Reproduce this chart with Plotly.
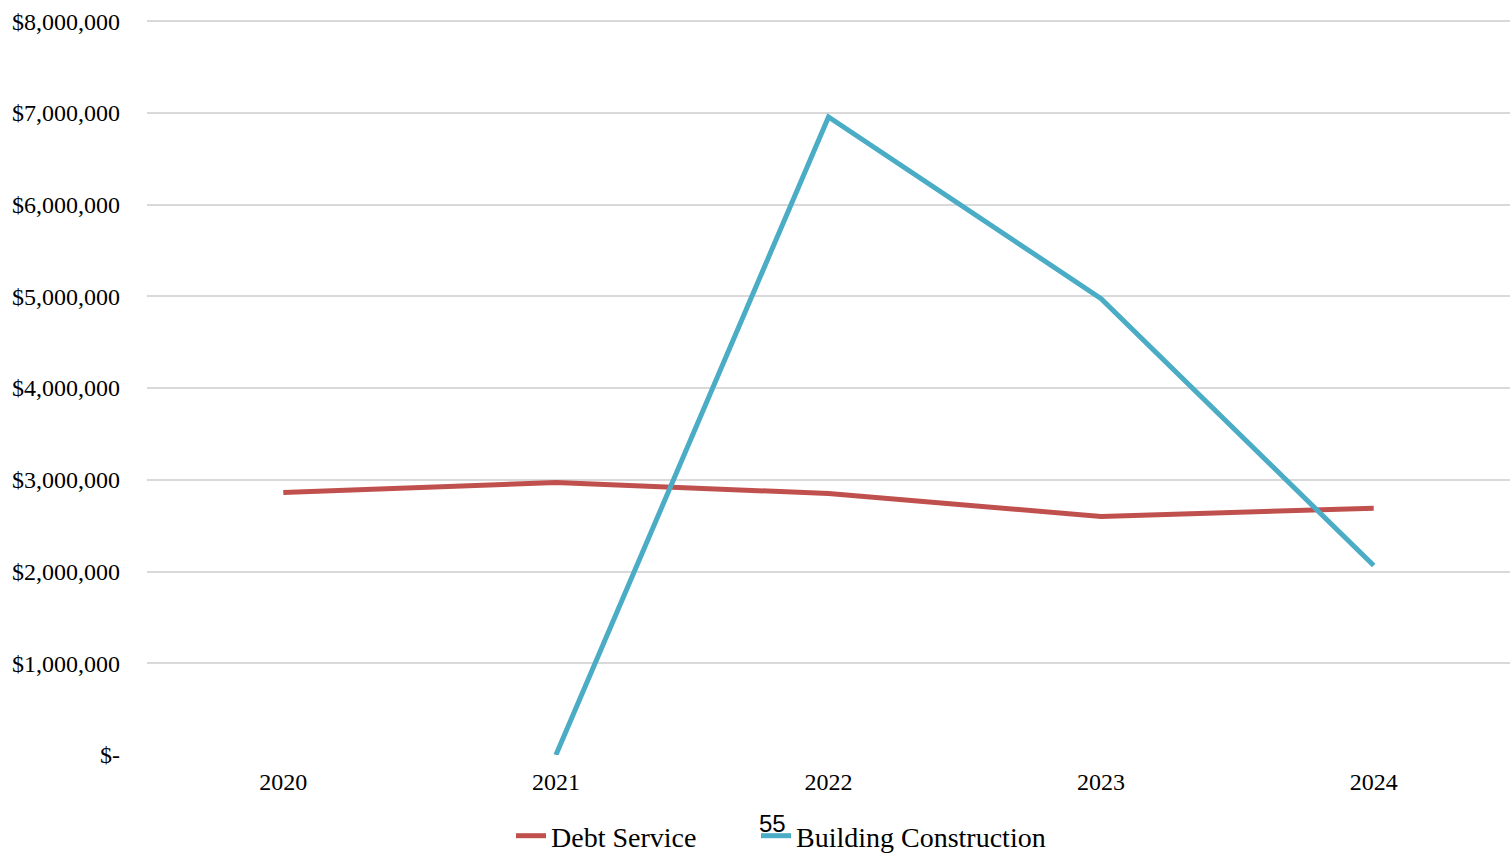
import plotly.graph_objects as go

years = ["2020", "2021", "2022", "2023", "2024"]
debt_service = [2862000, 2970000, 2850000, 2600000, 2690000]
building_construction = [None, 0, 6955000, 4975000, 2065000]

y_tickvals = [0, 1000000, 2000000, 3000000, 4000000, 5000000, 6000000, 7000000, 8000000]
y_ticktext = ["$-", "$1,000,000", "$2,000,000", "$3,000,000", "$4,000,000",
              "$5,000,000", "$6,000,000", "$7,000,000", "$8,000,000"]

fig = go.Figure()
fig.add_trace(go.Scatter(x=years, y=debt_service, name="Debt Service", mode="lines",
                         line=dict(color="#C0504D", width=5), legend="legend"))
fig.add_trace(go.Scatter(x=years, y=building_construction, name="Building Construction", mode="lines",
                         line=dict(color="#4BACC6", width=5), connectgaps=False, legend="legend2"))

legend_common = dict(orientation="h", xanchor="left", yanchor="middle",
                     y=-(836 - 755) / 735,
                     font=dict(size=28, family="Liberation Serif, Times New Roman, serif"),
                     bgcolor="rgba(0,0,0,0)")

fig.update_layout(
    width=1510, height=853,
    margin=dict(l=147, r=0, t=20, b=98, autoexpand=False),
    paper_bgcolor="white", plot_bgcolor="white",
    font=dict(family="Liberation Serif, Times New Roman, serif", color="black", size=24),
    showlegend=True,
    legend=dict(x=(511 - 147) / 1363, **legend_common),
    legend2=dict(x=(756 - 147) / 1363, **legend_common),
    xaxis=dict(type="category", range=[-0.5, 4.5], showgrid=False, showline=False,
               zeroline=False, ticks="", ticklabelstandoff=10,
               tickfont=dict(size=24)),
    yaxis=dict(range=[0, 8012000], tickvals=y_tickvals, ticktext=y_ticktext,
               showgrid=True, gridcolor="#D9D9D9", gridwidth=1.5, zeroline=False,
               showline=False, ticks="", ticklabelstandoff=26, tickfont=dict(size=24)),
    annotations=[dict(text="55", xref="paper", yref="paper", x=(772 - 147) / 1363,
                      y=-(823 - 755) / 735, xanchor="center", yanchor="middle", showarrow=False,
                      font=dict(family="Liberation Sans, Arial, sans-serif", size=24, color="black"))],
)

fig.write_html("out.html")
